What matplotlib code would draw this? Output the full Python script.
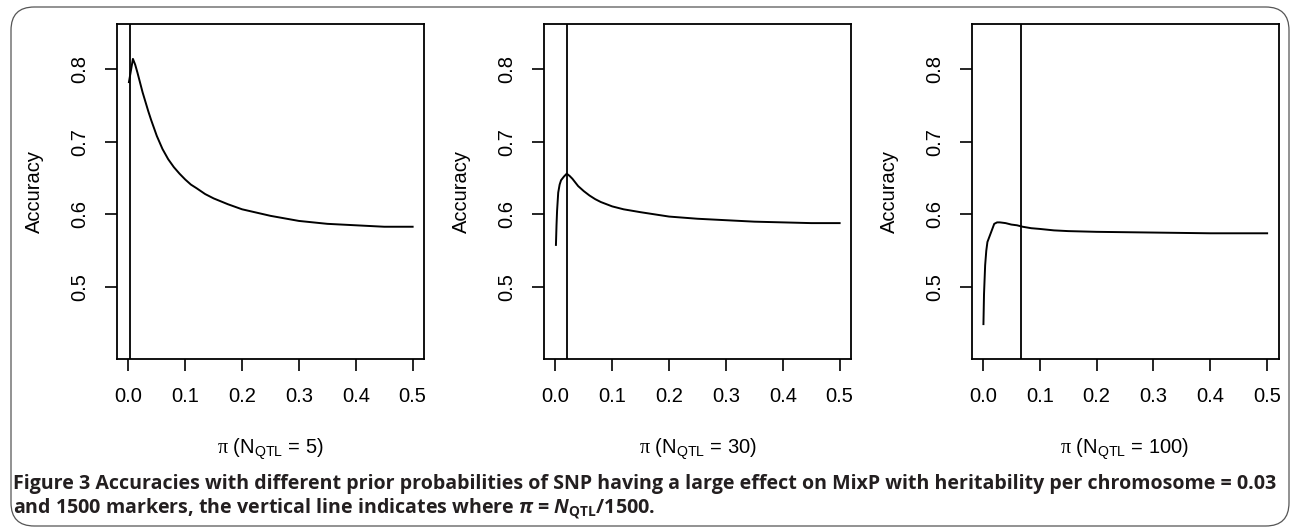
import matplotlib
matplotlib.use("Agg")
import matplotlib.pyplot as plt
from matplotlib.patches import FancyBboxPatch

plt.rcParams['font.family'] = ['Liberation Sans', 'DejaVu Sans']
plt.rcParams['mathtext.fontset'] = 'custom'
plt.rcParams['mathtext.rm'] = 'Liberation Sans'
plt.rcParams['mathtext.sf'] = 'Liberation Serif'
plt.rcParams['mathtext.it'] = 'Open Sans:italic:bold'
plt.rcParams['mathtext.bf'] = 'Open Sans:bold'

# ---- data ----
n_qtl = [5, 30, 100]
n_markers = 1500

pi_5 = [0.001, 0.008, 0.012, 0.016, 0.02, 0.025, 0.03, 0.035, 0.04, 0.045,
        0.05, 0.055, 0.06, 0.07, 0.08, 0.09, 0.10, 0.11, 0.12, 0.135, 0.15,
        0.175, 0.20, 0.25, 0.30, 0.35, 0.40, 0.45, 0.50]
acc_5 = [0.782, 0.814, 0.806, 0.795, 0.783, 0.768, 0.755, 0.742, 0.730, 0.719,
         0.708, 0.699, 0.690, 0.676, 0.665, 0.656, 0.648, 0.641, 0.636, 0.628,
         0.622, 0.614, 0.607, 0.598, 0.591, 0.587, 0.585, 0.583, 0.583]

pi_30 = [0.001, 0.002, 0.003, 0.005, 0.0075, 0.01, 0.015, 0.02, 0.025, 0.03,
         0.035, 0.04, 0.05, 0.06, 0.07, 0.08, 0.09, 0.10, 0.12, 0.15, 0.175,
         0.20, 0.25, 0.30, 0.35, 0.40, 0.45, 0.50]
acc_30 = [0.558, 0.585, 0.605, 0.630, 0.641, 0.647, 0.652, 0.656, 0.653, 0.649,
          0.644, 0.639, 0.632, 0.626, 0.621, 0.617, 0.614, 0.611, 0.607, 0.603,
          0.600, 0.597, 0.594, 0.592, 0.590, 0.589, 0.588, 0.588]

pi_100 = [0.001, 0.002, 0.004, 0.006, 0.008, 0.02, 0.025, 0.03, 0.04, 0.05,
          0.06, 0.07, 0.085, 0.10, 0.125, 0.15, 0.20, 0.30, 0.40, 0.50]
acc_100 = [0.449, 0.490, 0.530, 0.550, 0.562, 0.587, 0.589, 0.589, 0.588, 0.586,
           0.585, 0.583, 0.581, 0.580, 0.578, 0.577, 0.576, 0.575, 0.574, 0.574]

series = [(pi_5, acc_5), (pi_30, acc_30), (pi_100, acc_100)]

x_ticks = [0.0, 0.1, 0.2, 0.3, 0.4, 0.5]
x_ticklabels = ["0.0", "0.1", "0.2", "0.3", "0.4", "0.5"]
y_ticks = [0.5, 0.6, 0.7, 0.8]
y_ticklabels = ["0.5", "0.6", "0.7", "0.8"]

caption1 = ("Figure 3 Accuracies with different prior probabilities of SNP having a "
            "large effect on MixP with heritability per chromosome = 0.03")
caption2 = (r"and 1500 markers, the vertical line indicates where $\pi$ = "
            r"$N_{\mathbf{QTL}}$/1500.")

# ---- figure ----
W, H = 1290, 528
fig = plt.figure(figsize=(W / 100, H / 100), dpi=100)

lefts_px = [117, 544, 971.5]
ax_w_px = 307
top_px, bot_px = 24, 359
fs = 14.5

for i, ((xs, ys), n) in enumerate(zip(series, n_qtl)):
    ax = fig.add_axes([lefts_px[i] / W, 1 - bot_px / H, ax_w_px / W,
                       (bot_px - top_px) / H])
    ax.plot(xs, ys, color='black', lw=1.4, solid_joinstyle='round')
    ax.axvline(n / n_markers, color='black', lw=1.3)
    ax.set_xlim(-0.02, 0.52)
    ax.set_ylim(0.401, 0.862)
    ax.set_xticks(x_ticks)
    ax.set_xticklabels(x_ticklabels)
    ax.set_yticks(y_ticks)
    ax.set_yticklabels(y_ticklabels, rotation=90, va='center')
    ax.tick_params(axis='both', direction='out', length=8.4, width=1.2,
                   labelsize=fs, colors='black')
    ax.tick_params(axis='x', pad=12)
    ax.tick_params(axis='y', pad=11.5)
    for sp in ax.spines.values():
        sp.set_linewidth(1.3)
        sp.set_color('black')
    ax.set_ylabel("Accuracy", fontsize=fs)
    ax.yaxis.label.set_va('center')
    ax.yaxis.set_label_coords((34.5 - 117) / ax_w_px, 0.5)
    ax.set_xlabel(r"$\mathsf{\pi}$ (N$_{\mathregular{QTL}}$ = %d)" % n, fontsize=fs)
    ax.xaxis.label.set_va('baseline')
    ax.xaxis.set_label_coords(0.5, (bot_px - 454) / (bot_px - top_px))

# caption
fig.text(13 / W, 1 - 489 / H, caption1, fontfamily='Open Sans', fontweight='bold',
         fontsize=14.1, color='#231f20', va='baseline', ha='left')
fig.text(13 / W, 1 - 514 / H, caption2, fontfamily='Open Sans', fontweight='bold',
         fontsize=14.1, color='#231f20', va='baseline', ha='left')

# rounded border
box = FancyBboxPatch((11 / W, 1 - 526 / H), (1289 - 11) / W, (526 - 7) / H,
                     boxstyle="round,pad=0,rounding_size=0.018",
                     transform=fig.transFigure, fill=False,
                     edgecolor='#555555', lw=0.9, mutation_aspect=W / H)
fig.patches.append(box)

fig.savefig("out.png", dpi=100)
